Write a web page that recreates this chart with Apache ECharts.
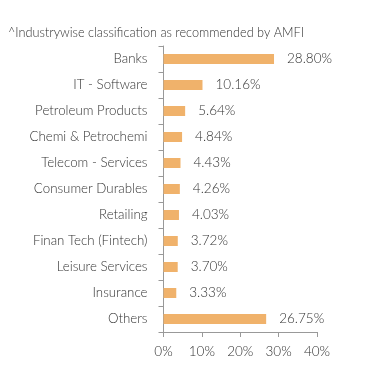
<!DOCTYPE html>
<html><head><meta charset="utf-8">
<script src="https://cdn.jsdelivr.net/npm/echarts@6/dist/echarts.min.js"></script>
<style>html,body{margin:0;padding:0;background:#fff}#c{width:391px;height:383px}</style>
</head><body><div id="c"></div>
<script>
const categories = ["Banks","IT - Software","Petroleum Products","Chemi & Petrochemi","Telecom - Services","Consumer Durables","Retailing","Finan Tech (Fintech)","Leisure Services","Insurance","Others"];
const values = [28.80,10.16,5.64,4.84,4.43,4.26,4.03,3.72,3.70,3.33,26.75];
const xTicks = [0,10,20,30,40];
const titleText = "^Industrywise classification as recommended by AMFI";

const chart = echarts.init(document.getElementById('c'), null, {renderer:'canvas'});
const font = 'Lato';
const fw = 300;
chart.setOption({
  animation:false,
  title:{text:titleText,left:8,top:26,padding:0,textStyle:{fontFamily:font,fontSize:12.7,fontWeight:fw,color:'#333'}},
  grid:{left:163.5,right:74,top:46,bottom:51,containLabel:false},
  xAxis:{type:'value',min:xTicks[0],max:xTicks[xTicks.length-1],interval:10,
    axisLine:{show:true,lineStyle:{color:'#999'}},
    axisTick:{show:true,length:5,lineStyle:{color:'#999'}},
    splitLine:{show:false},
    axisLabel:{margin:13,fontFamily:font,fontSize:13.5,fontWeight:fw,color:'#333',formatter:v=>v+'%'}},
  yAxis:{type:'category',data:categories,inverse:true,
    axisLine:{show:true,lineStyle:{color:'#999'}},
    axisTick:{show:true,length:5,lineStyle:{color:'#999'}},
    axisLabel:{margin:16,fontFamily:font,fontSize:13.3,fontWeight:fw,color:'#333'}},
  series:[{type:'bar',data:values,barWidth:10,itemStyle:{color:'#F0B26B'},
    label:{show:true,position:'right',distance:13,fontFamily:font,fontSize:13.5,fontWeight:fw,color:'#333',
      formatter:p=>p.value.toFixed(2)+'%'}}]
});
</script></body></html>
